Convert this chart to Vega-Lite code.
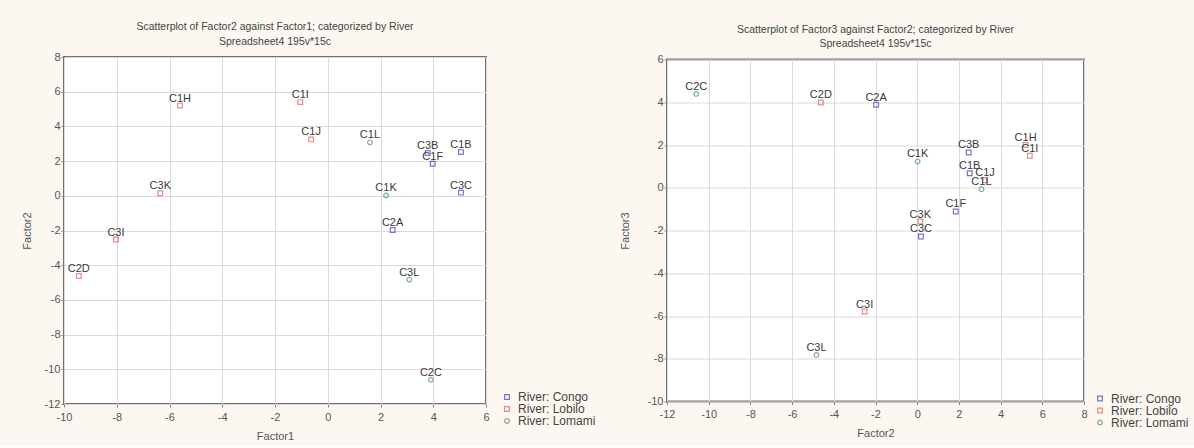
{
  "$schema": "https://vega.github.io/schema/vega-lite/v6.json",
  "background": "#fcf8f1",
  "padding": {"left": 20, "top": 21, "right": 4, "bottom": 4},
  "bounds": "flush",
  "spacing": 181,
  "center": true,
  "config": {
    "font": "Liberation Sans",
    "view": {"fill": "white", "stroke": "#707070", "strokeWidth": 2},
    "axis": {"grid": true, "gridColor": "#dadada", "domain": false, "ticks": true, "tickColor": "#888", "tickSize": 3,
      "labelColor": "#555", "labelFontSize": 11, "labelOverlap": false, "labelFlush": false,
      "labelExpr": "'' + datum.value",
      "titleColor": "#555", "titleFontSize": 11, "titleFontWeight": "normal"},
    "axisY": {"labelPadding": 1, "titlePadding": 12},
    "axisX": {"labelPadding": 4, "titlePadding": 8},
    "title": {"fontSize": 10.5, "fontWeight": "normal", "color": "#444", "subtitleFontSize": 10.5, "subtitleColor": "#444", "subtitlePadding": 4, "anchor": "middle", "offset": 4},
    "legend": {"title": null, "labelFontSize": 12, "labelColor": "#444", "symbolSize": 22, "symbolStrokeWidth": 1.2, "rowPadding": -0.5, "labelOffset": 5}
  },
  "datasets": {
    "pts": [
      {"Name": "C1B", "River": "Congo", "F1": 5.05, "F2": 2.52, "F3": 0.68},
      {"Name": "C1F", "River": "Congo", "F1": 3.98, "F2": 1.85, "F3": -1.11},
      {"Name": "C2A", "River": "Congo", "F1": 2.46, "F2": -1.97, "F3": 3.88},
      {"Name": "C3B", "River": "Congo", "F1": 3.79, "F2": 2.47, "F3": 1.65},
      {"Name": "C3C", "River": "Congo", "F1": 5.05, "F2": 0.18, "F3": -2.28},
      {"Name": "C1H", "River": "Lobilo", "F1": -5.6, "F2": 5.2, "F3": 2.0},
      {"Name": "C1I", "River": "Lobilo", "F1": -1.04, "F2": 5.4, "F3": 1.5},
      {"Name": "C1J", "River": "Lobilo", "F1": -0.63, "F2": 3.25, "F3": 0.35},
      {"Name": "C2D", "River": "Lobilo", "F1": -9.44, "F2": -4.62, "F3": 3.99},
      {"Name": "C3I", "River": "Lobilo", "F1": -8.03, "F2": -2.52, "F3": -5.79},
      {"Name": "C3K", "River": "Lobilo", "F1": -6.35, "F2": 0.15, "F3": -1.58},
      {"Name": "C1K", "River": "Lomami", "F1": 2.21, "F2": 0.02, "F3": 1.23},
      {"Name": "C1L", "River": "Lomami", "F1": 1.6, "F2": 3.08, "F3": -0.07},
      {"Name": "C2C", "River": "Lomami", "F1": 3.91, "F2": -10.6, "F3": 4.39},
      {"Name": "C3L", "River": "Lomami", "F1": 3.09, "F2": -4.83, "F3": -7.82}
    ]
  },
  "resolve": {"scale": {"color": "independent", "shape": "independent"}},
  "hconcat": [
    {
      "title": {"text": "Scatterplot of Factor2 against Factor1; categorized by River", "subtitle": "Spreadsheet4 195v*15c"},
      "width": 422,
      "height": 347,
      "data": {"name": "pts"},
      "encoding": {
        "x": {"field": "F1", "type": "quantitative", "scale": {"domain": [-10, 6], "nice": false, "zero": false},
          "axis": {"title": "Factor1", "values": [-10, -8, -6, -4, -2, 0, 2, 4, 6]}},
        "y": {"field": "F2", "type": "quantitative", "scale": {"domain": [-12, 8], "nice": false, "zero": false},
          "axis": {"title": "Factor2", "values": [-12, -10, -8, -6, -4, -2, 0, 2, 4, 6, 8]}}
      },
      "layer": [
        {
          "mark": {"type": "point", "filled": false, "strokeWidth": 1.2},
          "encoding": {
            "color": {"field": "River", "type": "nominal",
              "scale": {"domain": ["Congo", "Lobilo", "Lomami"], "range": ["#3d3db5", "#d4605a", "#4f8f74"]},
              "legend": {"orient": "none", "legendX": 437, "legendY": 334,
                "labelExpr": "'River: ' + datum.label"}},
            "shape": {"field": "River", "type": "nominal",
              "scale": {"domain": ["Congo", "Lobilo", "Lomami"], "range": ["square", "square", "circle"]},
              "legend": {"orient": "none", "legendX": 437, "legendY": 334,
                "labelExpr": "'River: ' + datum.label"}},
            "size": {"value": 22}
          }
        },
        {
          "mark": {"type": "text", "dy": -7, "fontSize": 11, "color": "#3a3a3a"},
          "encoding": {"text": {"field": "Name", "type": "nominal"}}
        }
      ]
    },
    {
      "title": {"text": "Scatterplot of Factor3 against Factor2; categorized by River", "subtitle": "Spreadsheet4 195v*15c"},
      "width": 417,
      "height": 342,
      "data": {"name": "pts"},
      "encoding": {
        "x": {"field": "F2", "type": "quantitative", "scale": {"domain": [-12, 8], "nice": false, "zero": false},
          "axis": {"title": "Factor2", "values": [-12, -10, -8, -6, -4, -2, 0, 2, 4, 6, 8]}},
        "y": {"field": "F3", "type": "quantitative", "scale": {"domain": [-10, 6], "nice": false, "zero": false},
          "axis": {"title": "Factor3", "titlePadding": 17, "values": [-10, -8, -6, -4, -2, 0, 2, 4, 6]}}
      },
      "layer": [
        {
          "mark": {"type": "point", "filled": false, "strokeWidth": 1.2},
          "encoding": {
            "color": {"field": "River", "type": "nominal",
              "scale": {"domain": ["Congo", "Lobilo", "Lomami"], "range": ["#3d3db5", "#d4605a", "#4f8f74"]},
              "legend": {"orient": "none", "legendX": 427, "legendY": 333,
                "labelExpr": "'River: ' + datum.label"}},
            "shape": {"field": "River", "type": "nominal",
              "scale": {"domain": ["Congo", "Lobilo", "Lomami"], "range": ["square", "square", "circle"]},
              "legend": {"orient": "none", "legendX": 427, "legendY": 333,
                "labelExpr": "'River: ' + datum.label"}},
            "size": {"value": 22}
          }
        },
        {
          "mark": {"type": "text", "dy": -7, "fontSize": 11, "color": "#3a3a3a"},
          "encoding": {"text": {"field": "Name", "type": "nominal"}}
        }
      ]
    }
  ]
}
